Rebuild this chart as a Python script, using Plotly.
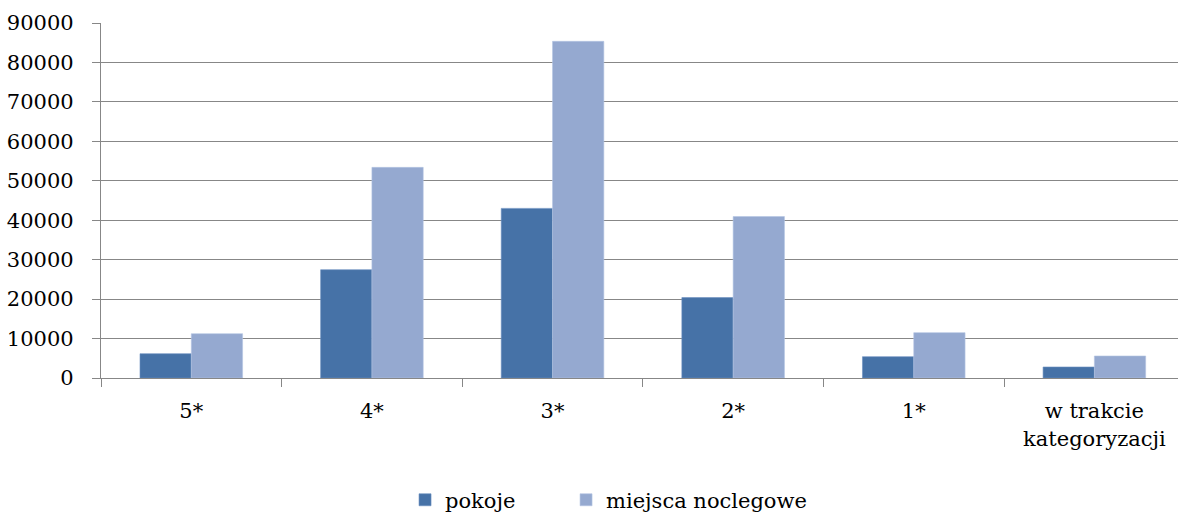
import plotly.graph_objects as go

categories = ["5*", "4*", "3*", "2*", "1*", "w trakcie<br>kategoryzacji"]
pokoje = [6160, 27460, 43000, 20380, 5410, 2790]
miejsca_noclegowe = [11230, 53400, 85350, 40930, 11500, 5580]
y_ticks = [0, 10000, 20000, 30000, 40000, 50000, 60000, 70000, 80000, 90000]

FONT = "DejaVu Serif"
FS = 21
GRID = "#878787"

fig = go.Figure()
fig.add_trace(go.Bar(name="pokoje", x=categories, y=pokoje, legend="legend",
                     marker=dict(color="#4672A7", line=dict(width=0.6, color="#6a8fc0"))))
fig.add_trace(go.Bar(name="miejsca noclegowe", x=categories, y=miejsca_noclegowe, legend="legend2",
                     marker=dict(color="#95A9D0", line=dict(width=0.6, color="#b4c5e3"))))

leg_common = dict(orientation="h", xanchor="left", y=-0.344, yanchor="middle",
                  font=dict(family=FONT, size=FS, color="black"), itemwidth=30)

fig.update_layout(
    width=1178, height=513,
    margin=dict(l=101, r=0, t=23, b=135, autoexpand=False),
    paper_bgcolor="white", plot_bgcolor="white",
    barmode="group", bargap=0.432, bargroupgap=0,
    font=dict(family=FONT, size=FS, color="black"),
    showlegend=True,
    legend=dict(x=0.2823, **leg_common),
    legend2=dict(x=0.4318, **leg_common),
)
fig.update_xaxes(
    type="category", range=[-0.5, 5.463], automargin=False,
    showline=True, linecolor=GRID, linewidth=1.3,
    ticks="outside", ticklen=8, tickcolor=GRID, tickwidth=1.3,
    tickson="boundaries", showgrid=False,
    tickfont=dict(family=FONT, size=FS, color="black"),
    ticklabelstandoff=14,
)
fig.update_yaxes(
    range=[0, 90000], tickvals=y_ticks, ticktext=[str(v) for v in y_ticks],
    automargin=False,
    showline=True, linecolor=GRID, linewidth=1.3,
    ticks="outside", ticklen=8, tickcolor=GRID, tickwidth=1.3,
    showgrid=True, gridcolor=GRID, gridwidth=1.3,
    zeroline=False,
    tickfont=dict(family=FONT, size=FS, color="black"),
    ticklabelstandoff=14,
)

fig.write_html("out.html", config={"displayModeBar": False},
               post_script="document.body.style.margin='0';document.body.style.padding='0';")
